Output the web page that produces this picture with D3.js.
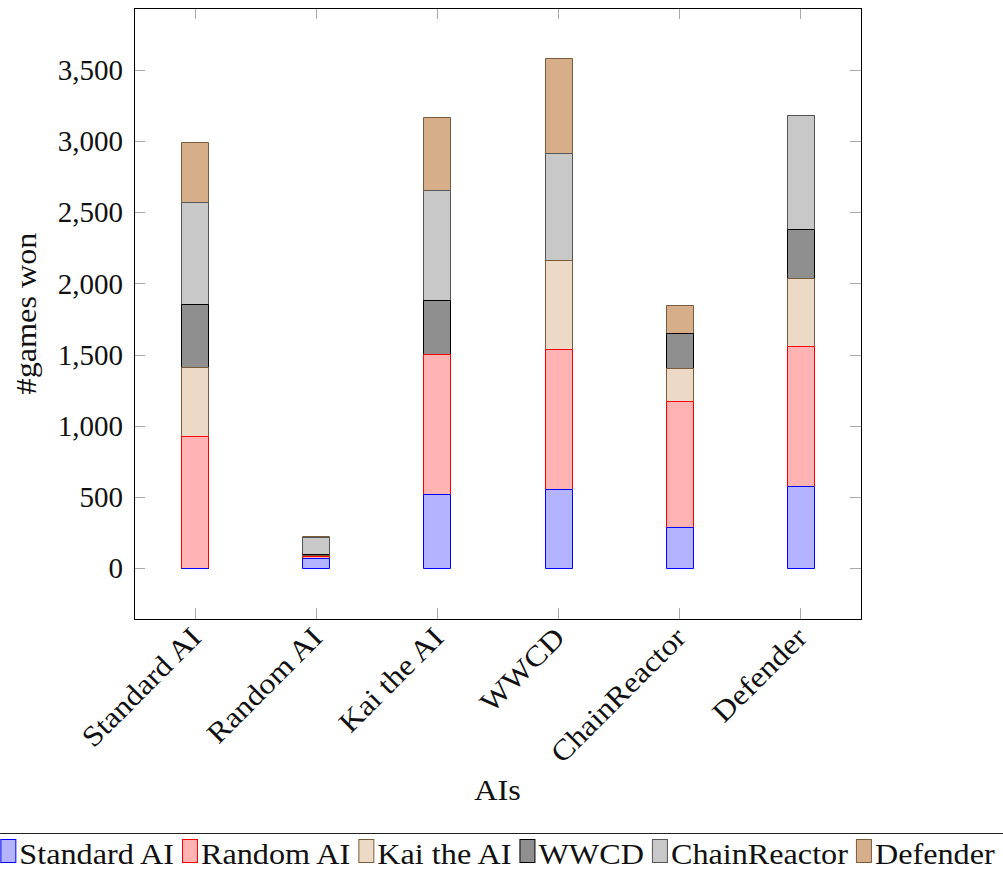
<!DOCTYPE html>
<head>
<meta charset="utf-8">
<title>Games won per AI</title>
<script src="https://d3js.org/d3.v7.min.js"></script>
<style>
body { margin: 0; background: #fff; }
svg { display: block; }
text { font-family: "Liberation Serif", "Times New Roman", "DejaVu Serif", serif; fill: #111; }
.tick line { stroke: #aaa; }
</style>
</head>
<body>
<div id="container"></div>
<script>
// ---------------------------- DATA ----------------------------//
const ais = ["Standard AI", "Random AI", "Kai the AI", "WWCD", "ChainReactor", "Defender"];
// wins of each row AI against the opponent in the series
const vsStandard     = [0,   72,  520, 556, 286, 575];
const vsRandom       = [930, 10,  986, 986, 887, 985];
const vsKai          = [480, 8,   0,   620, 233, 480];
const vsWWCD         = [444, 5,   378, 0,   245, 340];
const vsChainReactor = [716, 125, 770, 753, 0,   803];
const vsDefender     = [425, 8,   515, 670, 195, 0];
const yTicks = [0, 500, 1000, 1500, 2000, 2500, 3000, 3500];

const seriesNames = ["Standard AI", "Random AI", "Kai the AI", "WWCD", "ChainReactor", "Defender"];
const seriesValues = [vsStandard, vsRandom, vsKai, vsWWCD, vsChainReactor, vsDefender];
const fills   = ["#b3b3ff", "#ffb3b3", "#ecd9c6", "#8f8f8f", "#c8c8c8", "#d6ae89"];
const strokes = ["#0000ff", "#ff0000", "#7a5c3c", "#000000", "#555555", "#7a5c3c"];

// ---------------------------- SVG -----------------------------//
const width = 1003, height = 877;
const plot = {left: 134, right: 861, top: 8, bottom: 619};
const fs = "29px";
const stretch = 1.11;   // the original face is wider than Liberation Serif

const svg = d3.select("#container").append("svg")
    .attr("width", width)
    .attr("height", height);

function widen(sel) {
    sel.each(function() {
        const w = this.getComputedTextLength();
        d3.select(this).attr("textLength", w * stretch).attr("lengthAdjust", "spacingAndGlyphs");
    });
}

const table = ais.map(function(name, i) {
    const row = {ai: name};
    seriesNames.forEach(function(s, j) { row[s] = seriesValues[j][i]; });
    return row;
});
const stacked = d3.stack().keys(seriesNames)(table);

// --------------------------- SCALES ---------------------------//
const x = d3.scaleLinear().domain([-0.5, ais.length - 0.5]).range([plot.left, plot.right]);
const y = d3.scaleLinear().domain([-359, 3937]).range([plot.bottom, plot.top]);
const barW = 27;

// ---------------------------- BARS ----------------------------//
// drawn top series first so each lower segment's upper edge stays visible
const groups = svg.selectAll("g.serie")
    .data(stacked.slice().reverse())
    .enter().append("g")
    .attr("class", "serie");

// paths instead of rects so that empty segments still show their edge
groups.selectAll("path")
    .data(function(d) { return d.map(function(p) { return {p: p, j: d.index}; }); })
    .enter().append("path")
    .attr("d", function(d, i) {
        const x0 = Math.round(x(i) - barW / 2) + 0.5;
        const y1 = Math.round(y(d.p[1])) + 0.5;
        const y0 = Math.round(y(d.p[0])) + 0.5;
        return "M" + x0 + "," + y0 + "H" + (x0 + barW) + "V" + y1 + "H" + x0 + "Z";
    })
    .attr("fill", function(d) { return fills[d.j]; })
    .attr("stroke", function(d) { return strokes[d.j]; })
    .attr("stroke-width", 1);

// ---------------------------- AXES ----------------------------//
const fmt = d3.format(",");
const yLeft = svg.append("g")
    .attr("transform", "translate(" + plot.left + ",0)")
    .call(d3.axisLeft(y).tickValues(yTicks).tickFormat(fmt).tickSize(0).tickPadding(11));
yLeft.attr("font-family", null).attr("font-size", null);
yLeft.selectAll("text").style("font-size", fs).attr("dy", "0.33em");
yLeft.select(".domain").remove();

// inner tick marks on all four sides
const tickG = svg.append("g").attr("class", "tick");
yTicks.forEach(function(v) {
    const yy = Math.round(y(v)) + 0.5;
    tickG.append("line").attr("x1", plot.left).attr("x2", plot.left + 11).attr("y1", yy).attr("y2", yy);
    tickG.append("line").attr("x1", plot.right - 11).attr("x2", plot.right).attr("y1", yy).attr("y2", yy);
});
ais.forEach(function(a, i) {
    const xx = Math.round(x(i)) + 0.5;
    tickG.append("line").attr("x1", xx).attr("x2", xx).attr("y1", plot.top).attr("y2", plot.top + 11);
    tickG.append("line").attr("x1", xx).attr("x2", xx).attr("y1", plot.bottom - 11).attr("y2", plot.bottom);
});

// frame
svg.append("rect")
    .attr("x", plot.left + 0.5).attr("y", plot.top + 0.5)
    .attr("width", plot.right - plot.left).attr("height", plot.bottom - plot.top)
    .attr("fill", "none").attr("stroke", "#000").attr("stroke-width", 1);

// x tick labels, rotated
svg.append("g").selectAll("text")
    .data(ais)
    .enter().append("text")
    .attr("transform", function(d, i) {
        return "translate(" + (x(i) - 6) + "," + (plot.bottom + 6) + ") rotate(-45)";
    })
    .attr("text-anchor", "end")
    .attr("dy", "0.7em")
    .style("font-size", fs)
    .text(function(d) { return d; })
    .call(widen);

// axis titles
svg.append("text")
    .attr("x", (plot.left + plot.right) / 2)
    .attr("y", 800)
    .attr("text-anchor", "middle")
    .style("font-size", fs)
    .text("AIs")
    .call(widen);

svg.append("text")
    .attr("transform", "translate(36," + ((plot.top + plot.bottom) / 2) + ") rotate(-90)")
    .attr("text-anchor", "middle")
    .style("font-size", fs)
    .text("#games won")
    .call(widen);

// --------------------------- LEGEND ---------------------------//
const legendTop = 833;
const legend = svg.append("g");
let cursor = 0;
seriesNames.forEach(function(name, j) {
    const g = legend.append("g");
    g.append("rect")
        .attr("x", 0.5).attr("y", legendTop + 6.5)
        .attr("width", 15).attr("height", 23)
        .attr("fill", fills[j]).attr("stroke", strokes[j]);
    const t = g.append("text")
        .attr("x", 19).attr("y", legendTop + 31)
        .style("font-size", fs)
        .text(name);
    const w = t.node().getComputedTextLength() * stretch;
    t.attr("textLength", w).attr("lengthAdjust", "spacingAndGlyphs");
    g.attr("transform", "translate(" + cursor + ",0)");
    cursor += 19 + w + 8;
});
const total = cursor - 8;
const shift = (plot.left + plot.right) / 2 - total / 2;
legend.attr("transform", "translate(" + shift + ",0)");
// the legend box is wider than the page, so only its top edge shows
legend.append("rect")
    .attr("x", -14).attr("y", legendTop + 0.5)
    .attr("width", total + 28).attr("height", 60)
    .attr("fill", "none").attr("stroke", "#222");
</script>
</body>
